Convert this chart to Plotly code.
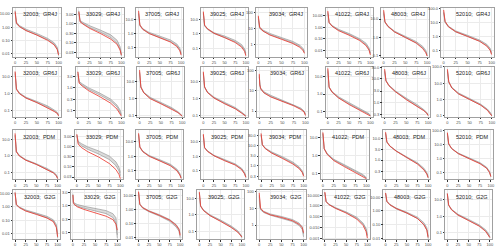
import plotly.graph_objects as go

STATIONS = ["32003", "33029", "37005", "39025", "39034", "41022", "48003", "52010"]
MODELS = ["GR4J", "GR6J", "PDM", "G2G"]
EXCEED = [0, 1, 3, 10, 25, 50, 75, 90, 97, 100]
X_TICKS = [0, 25, 50, 75, 100]

# ---- red (observed) curves, grey band upper / lower ----
RED_GR4J = [
    [15, 4, 2, 1.1, 0.55, 0.25, 0.1, 0.045, 0.02, 0.008],
    [4, 1.6, 1.2, 0.9, 0.55, 0.3, 0.15, 0.08, 0.04, 0.022],
    [40, 8, 4, 2, 1.0, 0.5, 0.25, 0.12, 0.06, 0.03],
    [35, 8, 4, 2.2, 1.1, 0.55, 0.25, 0.12, 0.06, 0.03],
    [60, 20, 12, 7, 4, 2.2, 1.2, 0.7, 0.45, 0.3],
    [25, 5, 2.5, 1.2, 0.5, 0.2, 0.07, 0.025, 0.01, 0.004],
    [30, 12, 7, 4, 2, 1.0, 0.5, 0.25, 0.15, 0.1],
    [80, 25, 12, 5, 2.2, 1.0, 0.45, 0.2, 0.1, 0.05],
]
HI_GR4J = [
    [18, 5, 2.4, 1.3, 0.7, 0.33, 0.14, 0.065, 0.03, 0.01],
    [4.5, 2, 1.4, 1.1, 0.75, 0.45, 0.25, 0.13, 0.06, 0.025],
    [30, 7, 4, 2.2, 1.2, 0.65, 0.35, 0.18, 0.09, 0.04],
    [30, 7, 4, 2.3, 1.2, 0.7, 0.35, 0.18, 0.09, 0.045],
    [50, 18, 12, 8, 5, 2.8, 1.6, 0.95, 0.6, 0.4],
    [20, 5, 2.7, 1.4, 0.65, 0.28, 0.1, 0.04, 0.016, 0.006],
    [25, 11, 7, 4.2, 2.2, 1.15, 0.6, 0.33, 0.2, 0.12],
    [60, 25, 12, 5.5, 2.5, 1.2, 0.55, 0.27, 0.14, 0.07],
]
LO_GR4J = [
    [12, 3.5, 1.8, 1.05, 0.55, 0.26, 0.11, 0.05, 0.022, 0.007],
    [3.5, 1.6, 1.2, 0.95, 0.6, 0.35, 0.18, 0.09, 0.045, 0.02],
    [25, 6, 3.5, 1.9, 1.0, 0.52, 0.27, 0.14, 0.07, 0.035],
    [25, 6, 3.5, 2, 1.05, 0.55, 0.28, 0.14, 0.07, 0.035],
    [40, 15, 10, 7, 4.2, 2.4, 1.3, 0.8, 0.5, 0.33],
    [15, 4, 2.2, 1.2, 0.55, 0.23, 0.08, 0.03, 0.012, 0.005],
    [20, 10, 6.5, 3.8, 2, 1.0, 0.5, 0.28, 0.17, 0.1],
    [50, 20, 10, 4.8, 2.1, 1.0, 0.45, 0.22, 0.11, 0.055],
]

RED_GR6J = [
    [20, 4, 1.8, 1.0, 0.55, 0.3, 0.15, 0.09, 0.07, 0.05],
    [5, 2.2, 1.6, 1.2, 0.75, 0.42, 0.22, 0.12, 0.08, 0.06],
    [50, 12, 5, 2.2, 1.0, 0.5, 0.25, 0.15, 0.11, 0.09],
    [40, 10, 5, 2.3, 1.1, 0.5, 0.25, 0.14, 0.11, 0.09],
    [70, 20, 13, 8, 5, 3, 1.8, 1.2, 0.9, 0.6],
    [30, 5, 2.5, 1.3, 0.6, 0.25, 0.12, 0.08, 0.065, 0.055],
    [25, 12, 8, 5, 2.8, 1.3, 0.7, 0.45, 0.35, 0.28],
    [70, 25, 12, 5, 2.2, 1.0, 0.45, 0.22, 0.14, 0.1],
]
HI_GR6J = [
    [18, 4, 2, 1.1, 0.62, 0.35, 0.19, 0.11, 0.08, 0.06],
    [5, 2.4, 1.9, 1.5, 1.0, 0.6, 0.33, 0.18, 0.11, 0.07],
    [40, 10, 5, 2.4, 1.2, 0.6, 0.3, 0.17, 0.12, 0.1],
    [35, 9, 5, 2.5, 1.25, 0.6, 0.3, 0.16, 0.12, 0.1],
    [60, 20, 14, 9, 6, 3.5, 2.1, 1.4, 1.0, 0.7],
    [25, 5, 2.6, 1.4, 0.7, 0.32, 0.15, 0.095, 0.075, 0.06],
    [22, 12, 8.5, 5.3, 3, 1.5, 0.8, 0.5, 0.38, 0.3],
    [60, 22, 12, 5.5, 2.5, 1.15, 0.52, 0.26, 0.16, 0.11],
]
LO_GR6J = [
    [15, 3.5, 1.8, 1.0, 0.56, 0.3, 0.16, 0.095, 0.07, 0.05],
    [4, 2.1, 1.7, 1.3, 0.85, 0.5, 0.27, 0.15, 0.09, 0.065],
    [35, 9, 4.5, 2.2, 1.05, 0.52, 0.26, 0.15, 0.11, 0.09],
    [30, 8, 4.5, 2.3, 1.1, 0.52, 0.26, 0.14, 0.11, 0.09],
    [50, 18, 12, 8, 5.2, 3.1, 1.9, 1.25, 0.95, 0.65],
    [20, 4.5, 2.3, 1.25, 0.62, 0.27, 0.13, 0.085, 0.068, 0.055],
    [20, 11, 8, 5, 2.8, 1.35, 0.72, 0.46, 0.35, 0.28],
    [50, 20, 11, 5, 2.2, 1.0, 0.46, 0.23, 0.14, 0.1],
]

RED_PDM = [
    [25, 4, 1.8, 1.0, 0.55, 0.3, 0.15, 0.09, 0.06, 0.04],
    [4, 1.8, 1.3, 0.9, 0.55, 0.3, 0.14, 0.07, 0.04, 0.025],
    [40, 9, 4.5, 2.1, 1.0, 0.48, 0.22, 0.1, 0.05, 0.03],
    [35, 8, 4, 2.2, 1.1, 0.5, 0.25, 0.12, 0.06, 0.035],
    [40, 15, 11, 7, 4.2, 2.3, 1.2, 0.7, 0.45, 0.3],
    [20, 5, 2.5, 1.2, 0.55, 0.25, 0.12, 0.08, 0.065, 0.055],
    [20, 10, 7, 4.5, 2.6, 1.3, 0.65, 0.35, 0.22, 0.15],
    [70, 22, 11, 5, 2.2, 0.95, 0.42, 0.2, 0.1, 0.05],
]
HI_PDM = [
    [20, 4, 2, 1.1, 0.6, 0.33, 0.17, 0.1, 0.07, 0.045],
    [4, 2.3, 1.8, 1.4, 0.95, 0.6, 0.33, 0.17, 0.09, 0.05],
    [35, 8, 4.5, 2.3, 1.15, 0.58, 0.28, 0.13, 0.065, 0.035],
    [30, 7.5, 4.2, 2.4, 1.2, 0.6, 0.3, 0.15, 0.075, 0.04],
    [35, 15, 11, 7.5, 4.8, 2.8, 1.5, 0.85, 0.55, 0.35],
    [18, 5, 2.6, 1.35, 0.65, 0.32, 0.16, 0.1, 0.075, 0.06],
    [18, 10, 7, 4.6, 2.7, 1.4, 0.75, 0.42, 0.26, 0.17],
    [60, 22, 11, 5.2, 2.4, 1.1, 0.5, 0.24, 0.12, 0.06],
]
LO_PDM = [
    [18, 3.6, 1.8, 1.0, 0.55, 0.3, 0.15, 0.09, 0.06, 0.04],
    [3.5, 2, 1.5, 1.1, 0.72, 0.42, 0.22, 0.11, 0.06, 0.035],
    [30, 7, 4, 2.1, 1.05, 0.5, 0.24, 0.11, 0.055, 0.03],
    [28, 7, 3.8, 2.2, 1.1, 0.53, 0.26, 0.13, 0.065, 0.035],
    [32, 14, 10.5, 7, 4.4, 2.5, 1.3, 0.75, 0.48, 0.32],
    [16, 4.5, 2.4, 1.25, 0.6, 0.28, 0.14, 0.09, 0.07, 0.055],
    [17, 9.5, 6.8, 4.4, 2.6, 1.3, 0.68, 0.37, 0.23, 0.15],
    [55, 20, 10, 4.8, 2.2, 1.0, 0.45, 0.21, 0.1, 0.05],
]

RED_G2G = [
    [12, 3, 1.5, 0.9, 0.5, 0.28, 0.15, 0.08, 0.03, 0.006],
    [2.5, 1.3, 1.1, 0.9, 0.72, 0.55, 0.4, 0.3, 0.2, 0.12],
    [20, 5, 2.5, 1.4, 0.8, 0.4, 0.18, 0.08, 0.04, 0.015],
    [25, 7, 3.5, 1.8, 0.9, 0.4, 0.17, 0.09, 0.06, 0.045],
    [80, 20, 10, 6, 4, 2.8, 1.8, 1.1, 0.7, 0.35],
    [20, 5, 2.5, 1.3, 0.6, 0.22, 0.06, 0.015, 0.004, 0.001],
    [20, 8, 5, 2.8, 1.5, 0.7, 0.28, 0.1, 0.04, 0.012],
    [25, 10, 5, 2.5, 1.2, 0.55, 0.25, 0.12, 0.07, 0.05],
]
HI_G2G = [
    [12, 3, 1.6, 1.0, 0.6, 0.35, 0.2, 0.11, 0.05, 0.01],
    [2.8, 1.4, 1.25, 1.1, 0.95, 0.8, 0.65, 0.5, 0.35, 0.08],
    [18, 5, 2.6, 1.5, 0.85, 0.45, 0.2, 0.09, 0.045, 0.02],
    [22, 7, 3.5, 2, 1.0, 0.48, 0.21, 0.11, 0.07, 0.05],
    [60, 15, 9, 6.5, 4.5, 3.2, 2.1, 1.3, 0.8, 0.3],
    [18, 5, 2.7, 1.45, 0.7, 0.28, 0.09, 0.025, 0.008, 0.002],
    [20, 8, 5, 3, 1.6, 0.8, 0.35, 0.14, 0.06, 0.015],
    [25, 9, 5, 2.7, 1.35, 0.65, 0.3, 0.15, 0.085, 0.055],
]
LO_G2G = [
    [10, 2.7, 1.4, 0.9, 0.52, 0.3, 0.16, 0.09, 0.035, 0.005],
    [2.5, 1.3, 1.1, 0.95, 0.8, 0.65, 0.5, 0.36, 0.22, 0.06],
    [16, 4.5, 2.3, 1.3, 0.72, 0.36, 0.15, 0.06, 0.03, 0.01],
    [20, 6, 3.2, 1.8, 0.9, 0.42, 0.18, 0.095, 0.06, 0.04],
    [50, 12, 8, 5.5, 3.8, 2.6, 1.6, 0.95, 0.55, 0.2],
    [16, 4.5, 2.5, 1.3, 0.62, 0.24, 0.07, 0.02, 0.006, 0.0015],
    [18, 7.5, 4.5, 2.7, 1.4, 0.68, 0.28, 0.1, 0.04, 0.01],
    [22, 8, 4.6, 2.5, 1.2, 0.57, 0.26, 0.13, 0.075, 0.05],
]

# ---- y tick values (log axis) and decimals of their labels ----
YTICKS_GR4J = [[10, 1, 0.1, 0.01], [3, 1, 0.3, 0.1, 0.03], [10, 1, 0.1], [10, 1, 0.1],
               [100, 10, 1], [10, 1, 0.1, 0.01], [10, 1, 0.1], [100, 10, 1, 0.1]]
YTICKS_GR6J = [[10, 1, 0.1], [3, 1, 0.3, 0.1], [10, 1, 0.1], [10, 1, 0.1],
               [100, 10, 1], [10, 1, 0.1], [30, 10, 3, 1, 0.3], [100, 10, 1, 0.1]]
YTICKS_PDM = [[10, 1, 0.1], [3, 1, 0.3, 0.1, 0.03], [10, 1, 0.1], [10, 1, 0.1],
              [30, 10, 3, 1, 0.3], [10, 1, 0.1], [10, 3, 1, 0.3], [100, 10, 1, 0.1]]
YTICKS_G2G = [[10, 1, 0.1, 0.01], [3, 1, 0.3, 0.1], [10, 1, 0.1, 0.01], [10, 1, 0.1],
              [100, 10, 1], [10, 1, 0.1, 0.01, 0.001], [10, 1, 0.1, 0.01], [10, 1, 0.1]]
YDEC_GR4J = [2, 2, 1, 1, 0, 2, 1, 1]
YDEC_GR6J = [1, 1, 1, 1, 0, 1, 1, 1]
YDEC_PDM = [1, 2, 1, 1, 1, 1, 1, 1]
YDEC_G2G = [2, 1, 2, 1, 0, 3, 2, 1]

# ---- log10 y ranges ----
YR_GR4J = [(-2.25, 1.45), (-1.75, 0.8), (-1.65, 1.81), (-1.6, 1.8), (-0.74, 2.26), (-2.57, 1.66), (-1.05, 1.6), (-1.47, 2.05)]
YR_GR6J = [(-1.35, 1.58), (-1.25, 0.92), (-1.07, 1.9), (-1.07, 1.9), (-0.28, 2.2), (-1.3, 1.57), (-0.6, 1.5), (-1.05, 2.0)]
YR_PDM = [(-1.45, 1.58), (-1.64, 0.8), (-1.6, 1.8), (-1.6, 1.8), (-0.68, 1.75), (-1.3, 1.41), (-0.9, 1.38), (-1.5, 2.0)]
YR_G2G = [(-2.4, 1.25), (-1.26, 0.58), (-2.1, 1.4), (-1.48, 1.5), (-0.84, 2.06), (-3.1, 1.47), (-2.05, 1.5), (-1.4, 1.6)]

RED = [RED_GR4J, RED_GR6J, RED_PDM, RED_G2G]
HI = [HI_GR4J, HI_GR6J, HI_PDM, HI_G2G]
LO = [LO_GR4J, LO_GR6J, LO_PDM, LO_G2G]
YT = [YTICKS_GR4J, YTICKS_GR6J, YTICKS_PDM, YTICKS_G2G]
YD = [YDEC_GR4J, YDEC_GR6J, YDEC_PDM, YDEC_G2G]
YR = [YR_GR4J, YR_GR6J, YR_PDM, YR_G2G]

# ---- layout geometry (pixels) ----
W, H = 500, 251
LEFT = [[13, 77, 137, 202, 257, 327, 383, 443],
        [13, 76, 138, 202, 258, 327, 384, 447],
        [13, 75, 137, 202, 260, 322, 385, 447],
        [13, 71, 137, 198, 258, 324, 385, 447]]
RIGHT = [[61, 124, 184, 249, 308, 374, 431, 496],
         [61, 124, 185, 249, 309, 374, 432, 496],
         [60, 123, 184, 249, 307, 370, 432, 495],
         [60, 120, 183, 245, 307, 371, 432, 494]]
TOP = [5, 65, 130, 191]
BOT = [55, 116, 180, 241]

RED_C = "rgba(235,60,50,0.85)"
GREY_C = "rgba(140,140,140,0.75)"
FILL_C = "rgba(175,175,175,0.45)"
TICK_FONT = dict(family="Liberation Sans, Arial, sans-serif", size=4, color="#4d4d4d")

fig = go.Figure()
layout = dict(width=W, height=H, margin=dict(l=0, r=0, t=0, b=0),
              paper_bgcolor="white", plot_bgcolor="white", showlegend=False)
annotations = []

for r, model in enumerate(MODELS):
    for c, st in enumerate(STATIONS):
        n = r * 8 + c + 1
        xa = "x" if n == 1 else f"x{n}"
        ya = "y" if n == 1 else f"y{n}"
        fig.add_trace(go.Scatter(x=EXCEED, y=LO[r][c], mode="lines", xaxis=xa, yaxis=ya,
                                 line=dict(color=GREY_C, width=0.8), hoverinfo="skip"))
        fig.add_trace(go.Scatter(x=EXCEED, y=HI[r][c], mode="lines", xaxis=xa, yaxis=ya,
                                 line=dict(color=GREY_C, width=0.8), fill="tonexty",
                                 fillcolor=FILL_C, hoverinfo="skip"))
        fig.add_trace(go.Scatter(x=EXCEED, y=RED[r][c], mode="lines", xaxis=xa, yaxis=ya,
                                 line=dict(color=RED_C, width=1.0)))
        xkey = "xaxis" if n == 1 else f"xaxis{n}"
        ykey = "yaxis" if n == 1 else f"yaxis{n}"
        layout[xkey] = dict(domain=[LEFT[r][c] / W, RIGHT[r][c] / W], anchor=ya,
                            range=[-5, 105], tickvals=X_TICKS, ticktext=[str(v) for v in X_TICKS],
                            showgrid=True, gridcolor="#ebebeb", gridwidth=0.6,
                            showline=True, mirror=True, linecolor="#a0a0a0", linewidth=0.8,
                            ticks="outside", ticklen=1.5, tickwidth=0.5, tickcolor="#333",
                            tickfont=TICK_FONT, zeroline=False, fixedrange=True)
        dec = YD[r][c]
        layout[ykey] = dict(domain=[1 - BOT[r] / H, 1 - TOP[r] / H], anchor=xa, type="log",
                            range=list(YR[r][c]), tickvals=YT[r][c],
                            ticktext=[f"{v:.{dec}f}" for v in YT[r][c]],
                            showgrid=True, gridcolor="#ebebeb", gridwidth=0.6,
                            showline=True, mirror=True, linecolor="#a0a0a0", linewidth=0.8,
                            ticks="outside", ticklen=1.5, tickwidth=0.5, tickcolor="#333",
                            tickfont=TICK_FONT, zeroline=False, fixedrange=True)
        annotations.append(dict(text=f"{st};  {model}", xref=f"{xa} domain", yref=f"{ya} domain",
                                x=0.96, y=0.97, xanchor="right", yanchor="top", showarrow=False,
                                font=dict(family="Liberation Sans, Arial, sans-serif", size=5.5,
                                          color="#222")))

layout["annotations"] = annotations
fig.update_layout(**layout)
fig.write_html("out.html", config={"displayModeBar": False},
               post_script="document.body.style.margin='0px';")
